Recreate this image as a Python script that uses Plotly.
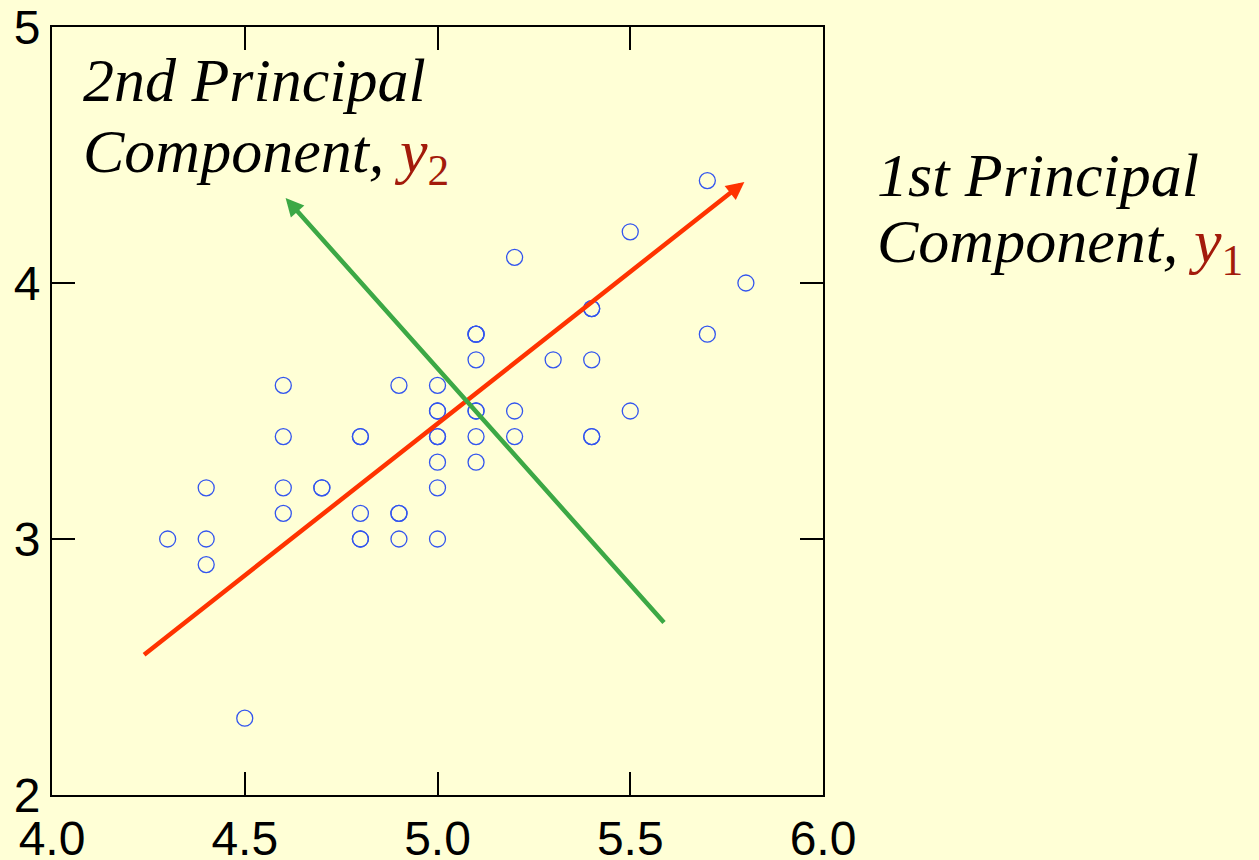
import plotly.graph_objects as go

# Sepal measurements (length, width) for the sample
sepal_length = [5.1, 4.9, 4.7, 4.6, 5.0, 5.4, 4.6, 5.0, 4.4, 4.9,
                5.4, 4.8, 4.8, 4.3, 5.8, 5.7, 5.4, 5.1, 5.7, 5.1,
                5.4, 5.1, 4.6, 5.1, 4.8, 5.0, 5.0, 5.2, 5.2, 4.7,
                4.8, 5.4, 5.2, 5.5, 4.9, 5.0, 5.5, 4.9, 4.4, 5.1,
                5.0, 4.5, 4.4, 5.0, 5.1, 4.8, 5.1, 4.6, 5.3, 5.0]
sepal_width = [3.5, 3.0, 3.2, 3.1, 3.6, 3.9, 3.4, 3.4, 2.9, 3.1,
               3.7, 3.4, 3.0, 3.0, 4.0, 4.4, 3.9, 3.5, 3.8, 3.8,
               3.4, 3.7, 3.6, 3.3, 3.4, 3.0, 3.4, 3.5, 3.4, 3.2,
               3.1, 3.4, 4.1, 4.2, 3.1, 3.2, 3.5, 3.6, 3.0, 3.4,
               3.5, 2.3, 3.2, 3.5, 3.8, 3.0, 3.8, 3.2, 3.7, 3.3]

# Principal component directions: (tail x, tail y, head x, head y)
pc1_arrow = [4.235, 2.543, 5.796, 4.395]
pc2_arrow = [5.591, 2.668, 4.606, 4.332]

x_ticks = [4.0, 4.5, 5.0, 5.5, 6.0]
y_ticks = [2, 3, 4, 5]

BG = "#FFFFD6"
RED = "#FF3300"
GREEN = "#3CA845"
DARK_RED = "#A31B0B"
SERIF = "Liberation Serif, Times New Roman, serif"
SANS = "Liberation Sans, Arial, sans-serif"

fig = go.Figure()
fig.add_trace(go.Scatter(
    x=sepal_length, y=sepal_width, mode="markers",
    marker=dict(symbol="circle-open", size=16, color="#3355EE",
                line=dict(width=1.3, color="#3355EE")),
    hoverinfo="x+y", showlegend=False,
))


def arrow(spec, color):
    x0, y0, x1, y1 = spec
    return dict(x=x1, y=y1, ax=x0, ay=y0, xref="x", yref="y",
                axref="x", ayref="y", text="", showarrow=True,
                arrowhead=2, arrowsize=0.8, arrowwidth=4.5,
                arrowcolor=color, standoff=0, startstandoff=0)


def caption(text, x, y):
    return dict(text=text, xref="paper", yref="paper", x=x, y=y,
                xanchor="left", yanchor="middle", align="left",
                showarrow=False,
                font=dict(family=SERIF, size=62, color="black",
                          style="italic"))


def component_symbol(index):
    return (f'<span style="color:{DARK_RED}">y<sub>'
            f'<span style="font-style:normal">{index}</span></sub></span>')


fig.update_layout(
    width=1259, height=860,
    margin=dict(l=52, r=436, t=27, b=65, autoexpand=False),
    paper_bgcolor=BG, plot_bgcolor=BG,
    annotations=[
        arrow(pc1_arrow, RED),
        arrow(pc2_arrow, GREEN),
        caption("2nd Principal", 0.038, 0.931),
        caption("Component, " + component_symbol(2), 0.038, 0.833),
        caption("1st Principal", 1.068, 0.807),
        caption("Component, " + component_symbol(1), 1.068, 0.715),
    ],
)

axis_common = dict(
    showgrid=False, zeroline=False, showline=True, linecolor="black",
    linewidth=2, mirror="ticks", ticks="inside", ticklen=23, tickwidth=2,
    tickcolor="black", automargin=False,
    tickfont=dict(family=SANS, size=48, color="black"),
)
fig.update_xaxes(range=[4, 6], tickvals=x_ticks,
                 ticktext=[f"{v:.1f}" for v in x_ticks], **axis_common)
fig.update_yaxes(range=[2, 5], tickvals=y_ticks,
                 ticktext=[str(v) for v in y_ticks], **axis_common)

fig.write_html("out.html")
